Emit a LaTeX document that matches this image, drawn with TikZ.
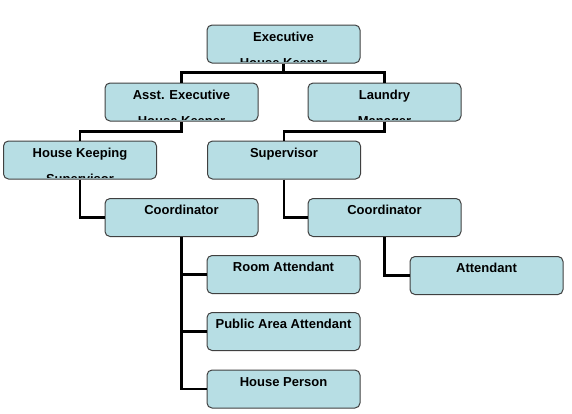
\documentclass[tikz,border=0pt]{standalone}
\usepackage{fontspec}
\setmainfont{Liberation Sans}
\definecolor{boxblue}{RGB}{183,222,228}
\definecolor{boxline}{RGB}{64,64,64}
\tikzset{
  boxtext/.style={anchor=base, inner sep=0pt, font=\bfseries\fontsize{13}{15}\selectfont},
  orgbox/.style 2 args={rectangle, rounded corners=5pt, draw=boxline, line width=1pt,
    fill=boxblue, minimum width=153pt, minimum height=38pt, inner sep=0pt,
    path picture={
      \clip ([yshift=2pt]path picture bounding box.south west) rectangle (path picture bounding box.north east);
      \node[boxtext] at ([yshift=-16pt]path picture bounding box.north) {#1};
      \node[boxtext] at ([yshift=-42pt]path picture bounding box.north) {#2};
    }},
  link/.style={line width=2.5pt, black},
}
\begin{document}
\begin{tikzpicture}[x=1pt, y=-1pt]
  \useasboundingbox (0,0) rectangle (572,413);
  % boxes
  \node[orgbox={Executive}{House Keeper}]        (exec)    at (283.5,44)  {};
  \node[orgbox={Asst. Executive}{House Keeper}]  (asst)    at (181.5,102) {};
  \node[orgbox={Laundry}{Manager}]               (laundry) at (384.5,102) {};
  \node[orgbox={House Keeping}{Supervisor}]      (hk)      at (80,160)    {};
  \node[orgbox={Supervisor}{}]                   (sup)     at (284,160)   {};
  \node[orgbox={Coordinator}{}]                  (coordL)  at (181.5,217.5) {};
  \node[orgbox={Coordinator}{}]                  (coordR)  at (384.5,217.5) {};
  \node[orgbox={Room Attendant}{}]               (room)    at (283.5,274.5) {};
  \node[orgbox={Public Area Attendant}{}]        (public)  at (283.5,331.5) {};
  \node[orgbox={House Person}{}]                 (person)  at (283.5,389)   {};
  \node[orgbox={Attendant}{}]                    (att)     at (486.5,275.5) {};
  % connectors
  \draw[link] (exec.south) -- ++(0,9) -| (asst.north);
  \draw[link] (exec.south) -- ++(0,9) -| (laundry.north);
  \draw[link] (asst.south) -- ++(0,10) -| (hk.north);
  \draw[link] (laundry.south) -- ++(0,10) -| (sup.north);
  \draw[link] (hk.south) |- (coordL.west);
  \draw[link] (sup.south) |- (coordR.west);
  \draw[link] (coordR.south) |- (att.west);
  \foreach \n in {room, public, person}
    \draw[link] (coordL.south) |- (\n.west);
\end{tikzpicture}
\end{document}
